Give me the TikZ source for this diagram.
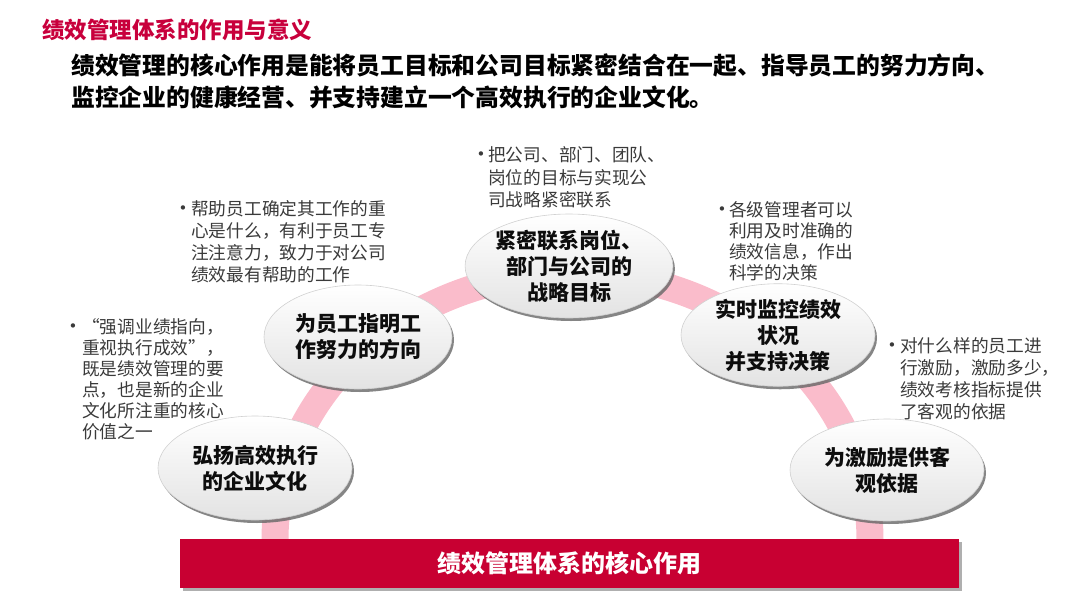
\documentclass[tikz,border=0pt]{standalone}
\usepackage{fontspec}
\setmainfont{Noto Sans CJK SC}
\newfontfamily\symfont{DejaVu Sans}
\usetikzlibrary{shapes.geometric,shadows}
\definecolor{titlered}{HTML}{C8003C}
\definecolor{barred}{HTML}{C80032}
\definecolor{bandpink}{HTML}{FABCCB}
\definecolor{txtgray}{HTML}{3A3A3A}
\tikzset{
  bubble/.style={ellipse, inner sep=0pt, minimum width=194pt, minimum height=104pt,
    draw=black!18, line width=0.6pt, top color=white, bottom color=black!11,
    drop shadow={shadow xshift=2pt, shadow yshift=-3pt, fill=black!60, opacity=0.8},
    align=center, font=\fontsize{21}{26}\selectfont\bfseries, text=black!95},
  note/.style={anchor=west, inner sep=0pt, align=left, text=txtgray},
  bul/.style={inner sep=0pt, font=\symfont\fontsize{15}{15}\selectfont, text=txtgray},
  band/.style={draw=bandpink, line width=27pt}
}
\begin{document}
\begin{tikzpicture}[x=1pt, y=-1pt]
\useasboundingbox (0,0) rectangle (1080,608);
% headings
\node[anchor=west, inner sep=0pt, font=\fontsize{22.5}{26}\selectfont\bfseries, text=titlered] (title) at (42,30) {绩效管理体系的作用与意义};
\node[anchor=west, inner sep=0pt, font=\fontsize{23.8}{30}\selectfont\bfseries, text=black] (sub1) at (71,65) {绩效管理的核心作用是能将员工目标和公司目标紧密结合在一起、指导员工的努力方向、};
\node[anchor=west, inner sep=0pt, font=\fontsize{23.8}{30}\selectfont\bfseries, text=black] (sub2) at (71,97) {监控企业的健康经营、并支持建立一个高效执行的企业文化。};
% pink arch
\coordinate (bl) at (275,545);
\coordinate (br) at (870,545);
\draw[band] (bl) -- (275,540) arc[start angle=180, end angle=360, x radius=297.5, y radius=267] -- (br);
% bar
\node[draw=none, fill=barred, minimum width=779pt, minimum height=49pt, inner sep=0pt,
  drop shadow={shadow xshift=3pt, shadow yshift=-3pt, fill=black!35, opacity=0.9},
  font=\fontsize{24}{26}\selectfont\bfseries, text=white] (bar) at (569.5,563.5) {绩效管理体系的核心作用};
% bubbles
\node[bubble] (e1) at (255,468) {弘扬高效执行\\的企业文化};
\node[bubble, minimum width=188pt] (e2) at (358,337) {为员工指明工\\作努力的方向};
\node[bubble] (e3) at (569,266) {紧密联系岗位、\\部门与公司的\\战略目标};
\node[bubble, minimum height=100pt] (e4) at (778,335) {实时监控绩效\\状况\\并支持决策};
\node[bubble, minimum height=102pt] (e5) at (887,470) {为激励提供客\\观依据};
% notes
\node[bul] (b1) at (481,156) {•};
\node[note, font=\fontsize{17.7}{22.5}\selectfont] (n1) at (488,177.5) {把公司、部门、团队、\\岗位的目标与实现公\\司战略紧密联系};
\node[bul] (b2) at (183,210) {•};
\node[note, font=\fontsize{17.7}{22}\selectfont] (n2) at (191,242) {帮助员工确定其工作的重\\心是什么，有利于员工专\\注注意力，致力于对公司\\绩效最有帮助的工作};
\node[bul] (b3) at (73,328) {•};
\node[note, font=\fontsize{17.7}{21}\selectfont] (n3) at (82,379.5) {“强调业绩指向，\\重视执行成效”，\\既是绩效管理的要\\点，也是新的企业\\文化所注重的核心\\价值之一};
\node[bul] (b4) at (722,211) {•};
\node[note, font=\fontsize{17.7}{21}\selectfont] (n4) at (729,241.5) {各级管理者可以\\利用及时准确的\\绩效信息，作出\\科学的决策};
\node[bul] (b5) at (892,347) {•};
\node[note, font=\fontsize{17.7}{22}\selectfont] (n5) at (900,379) {对什么样的员工进\\行激励，激励多少，\\绩效考核指标提供\\了客观的依据};
\end{tikzpicture}
\end{document}
